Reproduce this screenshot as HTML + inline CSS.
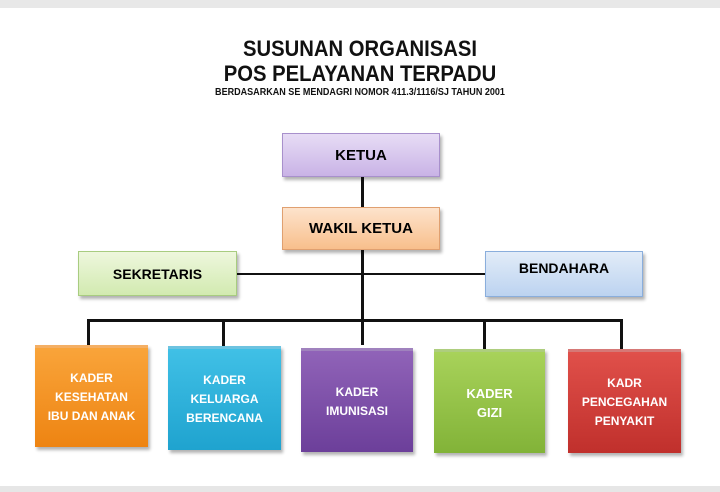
<!DOCTYPE html>
<html><head><style>
body{margin:0;width:720px;height:492px;background:#fff;position:relative;overflow:hidden;font-family:"Liberation Sans",sans-serif}
.a{position:absolute}
.t{position:absolute;left:0;width:720px;text-align:center;font-weight:bold;color:#111}
.b{position:absolute;display:flex;align-items:center;justify-content:center;text-align:center;font-weight:bold;box-sizing:border-box;box-shadow:2px 3px 3px rgba(0,0,0,.3)}
.k{color:#fff;font-size:12px;line-height:19px;border-top:3px solid rgba(255,255,255,.35)}
.l{position:absolute;background:#111}
</style></head><body>
<div class="a" style="left:0;top:0;width:720px;height:8px;background:#e8e8e8"></div>
<div class="a" style="left:0;top:486px;width:720px;height:6px;background:#e6e6e6"></div>
<div class="t" style="top:36px;font-size:22px;transform:scaleX(.92)">SUSUNAN ORGANISASI</div>
<div class="t" style="top:61px;font-size:22px;transform:scaleX(.92)">POS PELAYANAN TERPADU</div>
<div class="t" style="top:86px;font-size:10.5px;transform:scaleX(.86)">BERDASARKAN SE MENDAGRI NOMOR 411.3/1116/SJ TAHUN 2001</div>
<div class="l" style="left:361px;top:177px;width:3px;height:168px"></div>
<div class="l" style="left:237px;top:273px;width:248px;height:2px"></div>
<div class="l" style="left:87px;top:319px;width:536px;height:3px"></div>
<div class="l" style="left:87px;top:319px;width:3px;height:27px"></div>
<div class="l" style="left:222px;top:319px;width:3px;height:28px"></div>
<div class="l" style="left:483px;top:319px;width:3px;height:30px"></div>
<div class="l" style="left:620px;top:319px;width:3px;height:30px"></div>
<div class="b" style="left:282px;top:133px;width:158px;height:44px;background:linear-gradient(#e7dcf5,#c9b3e6);border:1px solid #a890cc;font-size:15px">KETUA</div>
<div class="b" style="left:282px;top:207px;width:158px;height:43px;background:linear-gradient(#fde3cc,#f8bf8c);border:1px solid #e0a070;font-size:15px">WAKIL KETUA</div>
<div class="b" style="left:78px;top:251px;width:159px;height:45px;background:linear-gradient(#eef7dd,#d2eab0);border:1px solid #a8cc80;font-size:14px">SEKRETARIS</div>
<div class="b" style="left:485px;top:251px;width:158px;height:46px;background:linear-gradient(#e2ecf8,#bcd3f0);border:1px solid #8aaedc;font-size:14px;align-items:flex-start;padding-top:8px">BENDAHARA</div>
<div class="b k" style="left:35px;top:345px;width:113px;height:102px;background:linear-gradient(#f9a43a,#ee8412)">KADER<br>KESEHATAN<br>IBU DAN ANAK</div>
<div class="b k" style="left:168px;top:346px;width:113px;height:104px;background:linear-gradient(#40c0e6,#1fa3cf)">KADER<br>KELUARGA<br>BERENCANA</div>
<div class="b k" style="left:301px;top:348px;width:112px;height:104px;background:linear-gradient(#9063b8,#6c3f9a)">KADER<br>IMUNISASI</div>
<div class="b k" style="left:434px;top:349px;width:111px;height:104px;background:linear-gradient(#a8d25a,#82b338);font-size:13px">KADER<br>GIZI</div>
<div class="b k" style="left:568px;top:349px;width:113px;height:104px;background:linear-gradient(#e0504a,#c0302c)">KADR<br>PENCEGAHAN<br>PENYAKIT</div>
</body></html>
